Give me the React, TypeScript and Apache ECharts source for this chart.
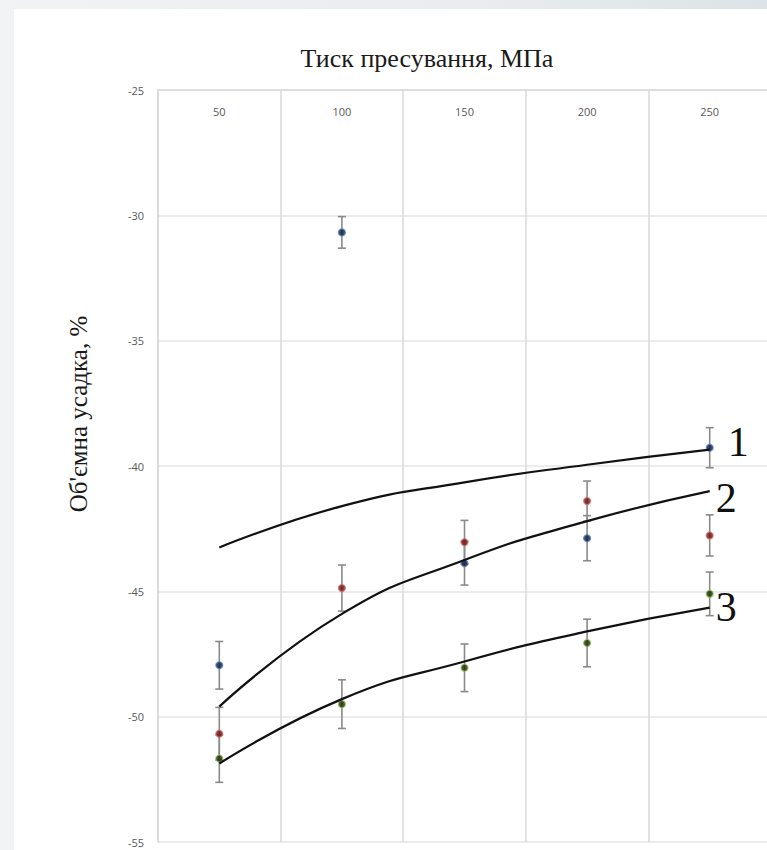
import React, { useEffect, useRef } from "react";
import * as echarts from "echarts";

const categories = ["50", "100", "150", "200", "250"];
const yTicks = { min: -55, max: -25, interval: 5 };

const blueValues = [-47.95, -30.68, -43.88, -42.88, -39.27];
const blueErrors = [0.95, 0.63, 0.87, 0.9, 0.8];
const redValues = [-50.68, -44.87, -43.04, -41.4, -42.77];
const redErrors = [1.05, 0.92, 0.87, 0.8, 0.82];
const greenValues = [-51.67, -49.5, -48.05, -47.06, -45.1];
const greenErrors = [0.95, 0.97, 0.95, 0.95, 0.87];

const trend1 = [-43.25, -41.6, -40.65, -39.95, -39.35];
const trend2 = [-49.6, -45.9, -43.75, -42.2, -41.0];
const trend3 = [-51.87, -49.3, -47.8, -46.6, -45.65];

const curveLabels = ["1", "2", "3"];
const titleText = "Тиск пресування, МПа";
const yName = "Об'ємна усадка, %";

function errData(vals: number[], errs: number[]) {
  return vals.map((v, i) => [i, v - errs[i], v + errs[i]]);
}

const errorBarRender = (params: any, api: any) => {
  const x = api.value(0);
  const lo = api.coord([x, api.value(1)]);
  const hi = api.coord([x, api.value(2)]);
  const hw = 4;
  const style = { stroke: "#8a8a8a", lineWidth: 1.6 };
  return {
    type: "group",
    children: [
      { type: "line", shape: { x1: lo[0], y1: lo[1], x2: hi[0], y2: hi[1] }, style },
      { type: "line", shape: { x1: lo[0] - hw, y1: lo[1], x2: lo[0] + hw, y2: lo[1] }, style },
      { type: "line", shape: { x1: hi[0] - hw, y1: hi[1], x2: hi[0] + hw, y2: hi[1] }, style },
    ],
  };
};

export default function App() {
  const ref = useRef<HTMLDivElement>(null);
  useEffect(() => {
    if (!ref.current) return;
    const chart = echarts.init(ref.current, null, { renderer: "svg" });
    const markers = [
      { name: "blue", vals: blueValues, errs: blueErrors, fill: "#0c1c3c", border: "#5a86c8" },
      { name: "red", vals: redValues, errs: redErrors, fill: "#6e1212", border: "#d47070" },
      { name: "green", vals: greenValues, errs: greenErrors, fill: "#1c2a08", border: "#8fbf4f" },
    ];
    const trends = [
      { data: trend1, label: curveLabels[0], offset: [18, -8] },
      { data: trend2, label: curveLabels[1], offset: [6, 7] },
      { data: trend3, label: curveLabels[2], offset: [6, -1] },
    ];
    const series: any[] = [];
    markers.forEach((m) => {
      series.push({
        type: "custom",
        name: m.name + "-err",
        renderItem: errorBarRender,
        data: errData(m.vals, m.errs),
        z: 2,
        silent: true,
      });
    });
    markers.forEach((m) => {
      series.push({
        type: "scatter",
        name: m.name,
        data: m.vals,
        symbol: "circle",
        symbolSize: 7,
        itemStyle: { color: m.fill, borderColor: m.border, borderWidth: 1.2 },
        z: 3,
      });
    });
    trends.forEach((t) => {
      series.push({
        type: "line",
        data: t.data,
        smooth: 0.5,
        showSymbol: false,
        symbol: "none",
        lineStyle: { color: "#111111", width: 2.2 },
        z: 4,
        endLabel: {
          show: true,
          formatter: t.label,
          distance: 0,
          offset: t.offset,
          fontFamily: "Liberation Serif",
          fontSize: 42,
          color: "#111111",
        },
      });
    });
    chart.setOption({
      animation: false,
      backgroundColor: "#ffffff",
      grid: { left: 144, right: 33, top: 81, bottom: 8, containLabel: false },
      xAxis: {
        type: "category",
        position: "top",
        data: categories,
        boundaryGap: true,
        axisLine: { show: true, lineStyle: { color: "#d9d9d9", width: 1.5 } },
        axisTick: { show: false },
        axisLabel: {
          inside: true,
          margin: 16,
          color: "#595959",
          fontSize: 11,
          fontFamily: "Open Sans",
        },
        splitLine: { show: true, lineStyle: { color: "#d9d9d9", width: 1.5 } },
      },
      yAxis: {
        type: "value",
        min: yTicks.min,
        max: yTicks.max,
        interval: yTicks.interval,
        axisLine: { show: true, lineStyle: { color: "#d9d9d9", width: 1.5 } },
        axisTick: { show: false },
        axisLabel: { color: "#595959", fontSize: 11, fontFamily: "Open Sans", margin: 14 },
        splitLine: { show: true, lineStyle: { color: "#e6e6e6", width: 1.5 } },
      },
      graphic: [
        {
          type: "text",
          x: 413,
          y: 49,
          style: {
            text: titleText,
            fontFamily: "Liberation Serif",
            fontSize: 26,
            fill: "#1a1a1a",
            textAlign: "center",
            textVerticalAlign: "middle",
          },
        },
        {
          type: "text",
          x: 64,
          y: 405,
          rotation: Math.PI / 2,
          style: {
            text: yName,
            fontFamily: "Liberation Serif",
            fontSize: 25,
            fill: "#1a1a1a",
            textAlign: "center",
            textVerticalAlign: "middle",
          },
        },
      ],
      series,
    });
    return () => chart.dispose();
  }, []);
  return (
    <div
      style={{
        position: "fixed",
        left: 0,
        top: 0,
        width: 767,
        height: 850,
        overflow: "hidden",
        background: "linear-gradient(90deg, #f1f3f4 0%, #e9edef 60%, #dde3e6 100%)",
      }}
    >
      <div
        ref={ref}
        style={{ position: "absolute", left: 14, top: 9, width: 790, height: 841, background: "#ffffff" }}
      />
    </div>
  );
}
